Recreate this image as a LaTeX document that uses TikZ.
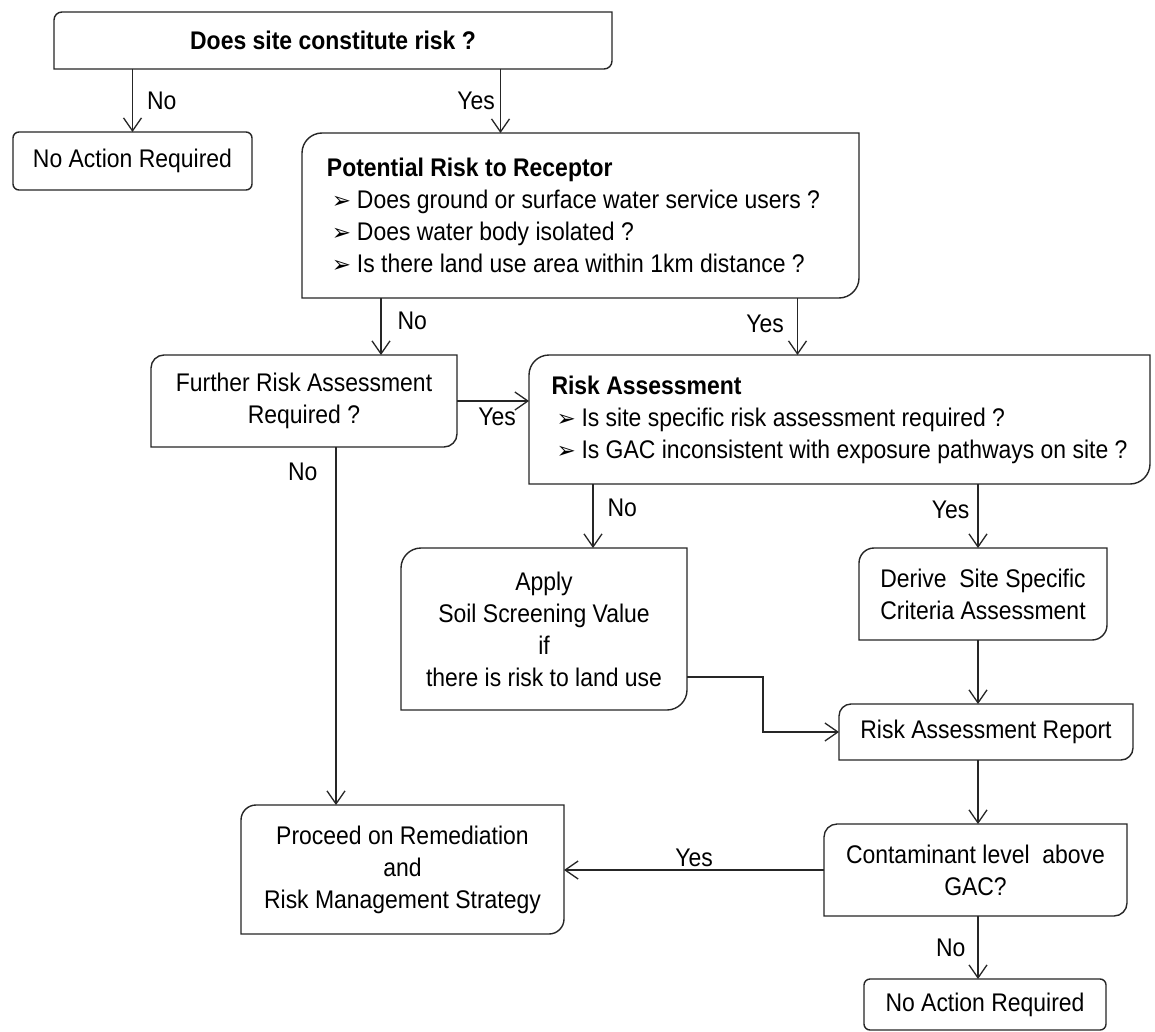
\documentclass[tikz,border=0pt]{standalone}
\usepackage{fontspec}
\setmainfont{Liberation Sans}[FakeStretch=0.9]
\newfontfamily\bulfont{DejaVu Sans}
\usetikzlibrary{arrows.meta,positioning,calc}

% arrowhead bullet for the question lists
\newcommand{\bul}{\hspace*{5pt}\makebox[25pt][l]{\bulfont\fontsize{23}{23}\selectfont ➢}}

\begin{document}
\begin{tikzpicture}[
    x=1pt, y=-1pt,
    box/.style={inner sep=0pt, outer sep=0pt, align=center, font=\fontsize{25.5}{32}\selectfont},
    listbox/.style={box, align=left},
    endbox/.style={box, draw=black!85, line width=1.4pt, rounded corners=6pt},
    frame/.style={draw=black!85, line width=1.4pt},
    arrow/.style={-{Straight Barb[length=13pt,width=18pt]}, draw=black!85, line width=1.3pt},
    answer/.style={inner sep=0pt, font=\fontsize{25.5}{32}\selectfont}
]
    \path[use as bounding box, fill=white] (0,0) rectangle (1155,1032);

    % First question
    \node[box, minimum width=558, minimum height=57] (risk) at (333,40.5) {\textbf{Does site constitute risk ?}};
    \node[endbox, minimum width=239, minimum height=58] (noaction) at (132.5,161) {No Action Required};

    % Receptor check
    \node[listbox, minimum width=557, minimum height=165] (receptor) at (580.5,215.5) {\textbf{Potential Risk to Receptor}\\
        \bul Does ground or surface water service users ?\kern14pt\mbox{}\\
        \bul Does water body isolated ?\\
        \bul Is there land use area within 1km distance ?};

    % Assessment stage
    \node[box, minimum width=306, minimum height=92] (further) at (304,401) {Further Risk Assessment\\Required ?};
    \node[listbox, minimum width=621, minimum height=129] (assess) at (839.5,419.5) {\textbf{Risk Assessment}\\
        \bul Is site specific risk assessment required ?\\
        \bul Is GAC inconsistent with exposure pathways on site ?};

    \node[box, minimum width=286, minimum height=162] (soil) at (544,629) {Apply\\Soil Screening Value\\if\\there is risk to land use};
    \node[box, minimum width=248, minimum height=92] (derive) at (983,594) {Derive\ \ Site Specific\\Criteria Assessment};
    \node[box, minimum width=294, minimum height=56] (report) at (986,732) {Risk Assessment Report};

    % Outcome
    \node[box, minimum width=303, minimum height=92] (level) at (975.5,870) {Contaminant level\ \ above\\GAC?};
    \node[box, minimum width=323, minimum height=129] (proceed) at (402.5,869.5) {Proceed on Remediation\\and\\Risk Management Strategy};
    \node[endbox, minimum width=242, minimum height=51] (noactionb) at (985,1004.5) {No Action Required};

    % Box outlines, round top left and bottom right only
    \foreach \n/\r in {risk/8, receptor/20, further/13, assess/20, soil/20, derive/15, report/12, level/13, proceed/15}
        \draw[frame] (\n.south west) -- ([yshift=-\r pt]\n.north west)
            .. controls ([yshift=-0.45*\r pt]\n.north west) and ([xshift=0.45*\r pt]\n.north west) .. ([xshift=\r pt]\n.north west)
            -- (\n.north east) -- ([yshift=\r pt]\n.south east)
            .. controls ([yshift=0.45*\r pt]\n.south east) and ([xshift=-0.45*\r pt]\n.south east) .. ([xshift=-\r pt]\n.south east)
            -- cycle;

    \coordinate (col) at (978,0);

    % Top decision
    \draw[arrow] (noaction.north |- risk.south) -- node[answer, right=14pt] {No} (noaction.north);
    \draw[arrow] ([xshift=-80pt]receptor.north |- risk.south) -- node[answer, left=5pt] {Yes} ([xshift=-80pt]receptor.north);

    % Receptor decision
    \draw[arrow] ([xshift=77pt]further.north |- receptor.south) -- node[answer, pos=0.4, right=16pt] {No} ([xshift=77pt]further.north);
    \draw[arrow] ([xshift=-42pt]assess.north |- receptor.south) -- node[answer, pos=0.45, left=13pt] {Yes} ([xshift=-42pt]assess.north);

    % Further assessment
    \draw[arrow] (further.east) -- node[answer, below=6pt, xshift=4pt] {Yes} (further.east -| assess.west);
    \draw[arrow] ([xshift=32pt]further.south) -- node[answer, pos=0.07, left=18pt] {No} ([xshift=32pt]further.south |- proceed.north);

    % Risk assessment branches
    \draw[arrow] ([xshift=49pt]soil.north |- assess.south) -- node[answer, pos=0.38, right=14pt] {No} ([xshift=49pt]soil.north);
    \draw[arrow] (col |- assess.south) -- node[answer, pos=0.4, left=8pt] {Yes} (col |- derive.north);
    \draw[arrow] (col |- derive.south) -- (col |- report.north);
    \draw[arrow] ([yshift=33pt]soil.south east) -- ++(76,0) |- (report.west);

    % Report to outcome
    \draw[arrow] (col |- report.south) -- (col |- level.north);
    \draw[arrow] (level.west) -- node[answer, above=3pt] {Yes} (level.west -| proceed.east);
    \draw[arrow] (col |- level.south) -- node[answer, left=12pt] {No} (col |- noactionb.north);

\end{tikzpicture}
\end{document}
